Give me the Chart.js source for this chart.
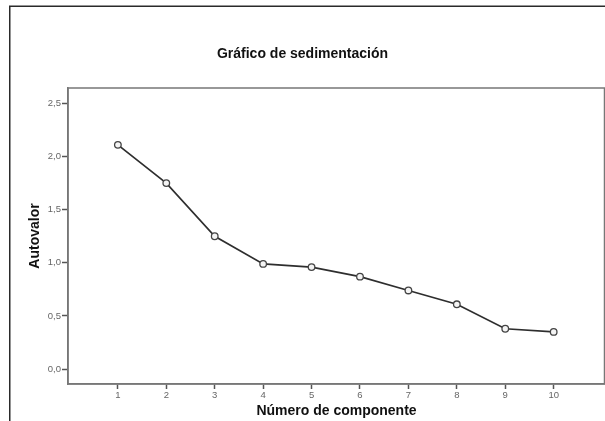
<!DOCTYPE html>
<html>
<head>
<meta charset="utf-8">
<style>
  html, body { margin: 0; padding: 0; background: #fff; overflow: hidden; }
  #wrap { width: 605px; height: 421px; position: relative; }
</style>
<script src="https://cdn.jsdelivr.net/npm/chart.js@4"></script>
</head>
<body>
<div id="wrap"><canvas id="c" width="605" height="421"></canvas></div>
<script>
// Scree plot: eigenvalue for each extracted component
const components = [1, 2, 3, 4, 5, 6, 7, 8, 9, 10];
const eigenvalues = [2.11, 1.75, 1.25, 0.99, 0.96, 0.87, 0.74, 0.61, 0.38, 0.35];
const yTickValues = [0, 0.5, 1.0, 1.5, 2.0, 2.5];

const FONT = "'Liberation Sans', Arial, Helvetica, sans-serif";

// Box around the plotting area plus the outer frame of the figure
const framePlugin = {
  id: 'frames',
  beforeDraw(chart) {
    const ctx = chart.ctx;
    ctx.save();
    ctx.strokeStyle = '#2a2a2a';
    ctx.lineWidth = 1.5;
    ctx.beginPath();
    ctx.moveTo(9.75, 421);
    ctx.lineTo(9.75, 6.25);
    ctx.lineTo(605, 6.25);
    ctx.stroke();
    ctx.restore();
  },
  afterDatasetsDraw(chart) {
    const a = chart.chartArea;
    const ctx = chart.ctx;
    ctx.save();
    ctx.strokeStyle = '#777';
    ctx.lineWidth = 1.5;
    ctx.strokeRect(a.left, a.top, a.right - a.left - 0.5, a.bottom - a.top);
    ctx.restore();
  }
};

new Chart(document.getElementById('c'), {
  type: 'line',
  data: {
    datasets: [{
      data: components.map((c, i) => ({ x: c, y: eigenvalues[i] })),
      borderColor: '#2e2e2e',
      borderWidth: 1.7,
      pointRadius: 3.3,
      pointBorderWidth: 1.3,
      pointBorderColor: '#444',
      pointBackgroundColor: '#f4f4f4',
      tension: 0,
      fill: false
    }]
  },
  options: {
    responsive: false,
    animation: false,
    events: [],
    layout: { autoPadding: false, padding: { left: 0, right: 0, top: 0, bottom: 0 } },
    plugins: {
      legend: { display: false },
      tooltip: { enabled: false },
      title: {
        display: true,
        text: 'Gráfico de sedimentación',
        color: '#111',
        font: { family: FONT, size: 14, weight: 'bold' },
        padding: { top: 46, bottom: 25.2 }
      }
    },
    scales: {
      x: {
        type: 'linear',
        min: -0.03,
        max: 11.06,
        afterBuildTicks: s => { s.ticks = components.map(v => ({ value: v })); },
        afterFit: s => { s.height = 37; s.paddingRight = 0; s.paddingLeft = 0; },
        grid: {
          drawOnChartArea: false,
          drawTicks: true,
          tickLength: 5,
          tickColor: '#555',
          tickWidth: 1.5
        },
        border: { display: true, color: '#777', width: 1.5 },
        ticks: {
          color: '#666',
          padding: 1,
          maxRotation: 0,
          font: { family: FONT, size: 9.5 },
          callback: v => String(v)
        },
        title: {
          display: true,
          text: 'Número de componente',
          color: '#111',
          font: { family: FONT, size: 14, weight: 'bold' },
          padding: { top: 0, bottom: 1 }
        }
      },
      y: {
        type: 'linear',
        min: -0.14,
        max: 2.645,
        afterBuildTicks: s => { s.ticks = yTickValues.map(v => ({ value: v })); },
        afterFit: s => { s.width = 68; },
        grid: {
          drawOnChartArea: false,
          drawTicks: true,
          tickLength: 6,
          tickColor: '#555',
          tickWidth: 1.5
        },
        border: { display: true, color: '#777', width: 1.5 },
        ticks: {
          color: '#666',
          padding: 1,
          font: { family: FONT, size: 9.5 },
          callback: v => v.toFixed(1).replace('.', ',')
        },
        title: {
          display: true,
          text: 'Autovalor',
          color: '#111',
          font: { family: FONT, size: 14, weight: 'bold' },
          padding: { top: 26.5, bottom: 0 }
        }
      }
    }
  },
  plugins: [framePlugin]
});
</script>
</body>
</html>
